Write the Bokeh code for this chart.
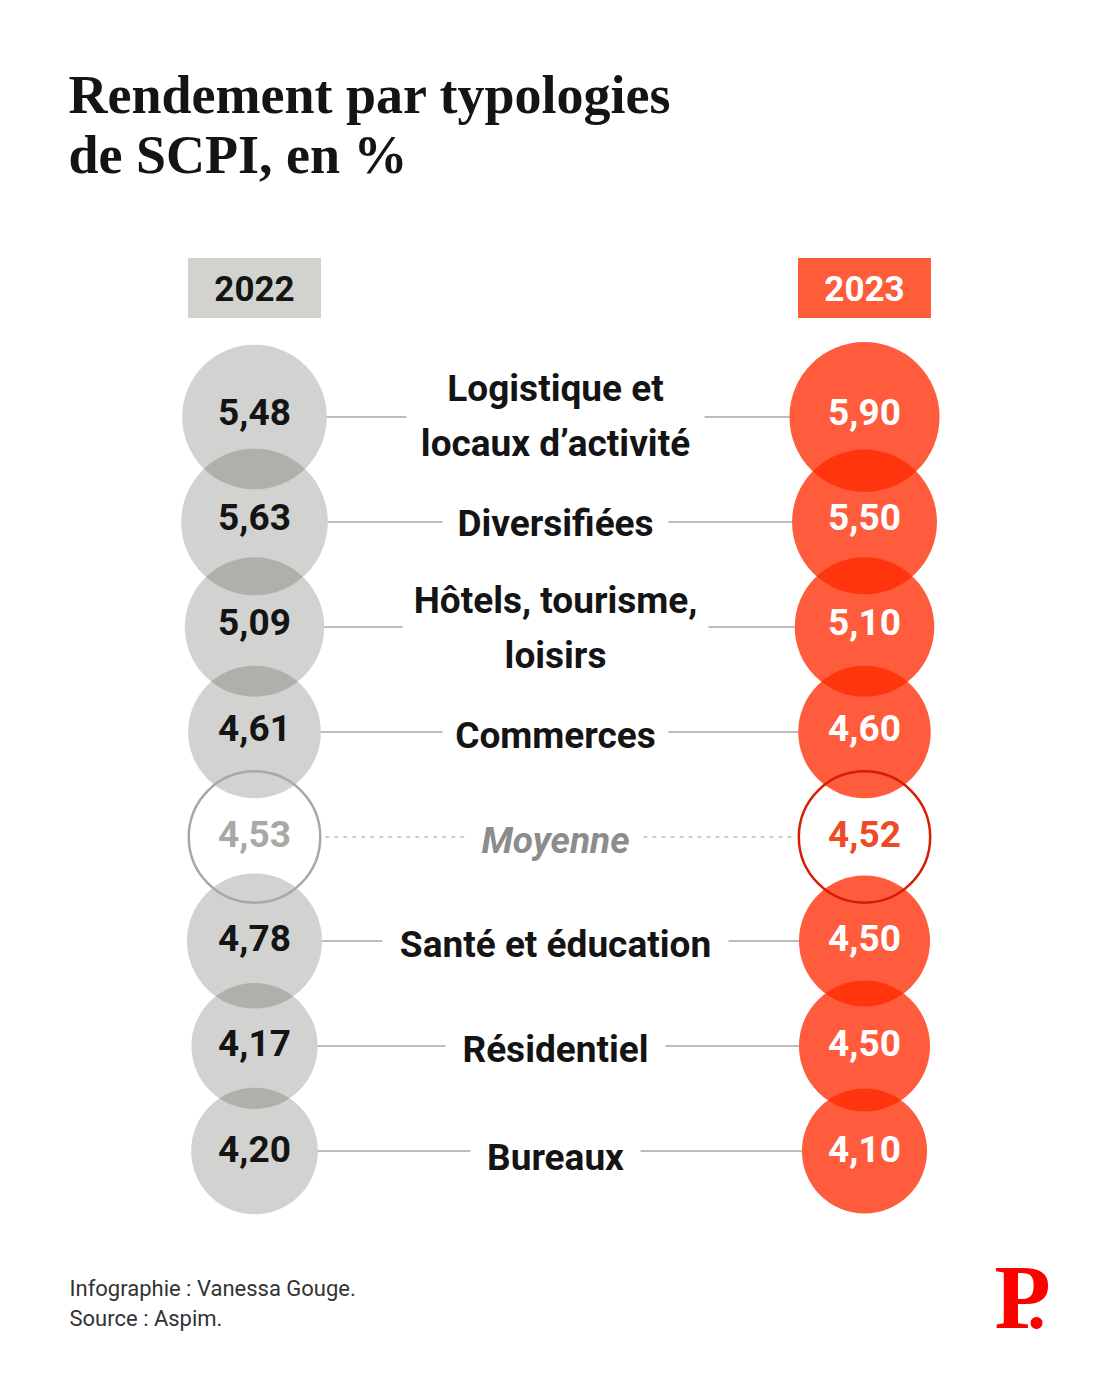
from bokeh.plotting import figure
from bokeh.embed import file_html
from bokeh.resources import INLINE
from bokeh.core.properties import value

# --- data ---
categories = ["Logistique et\nlocaux d’activité", "Diversifiées", "Hôtels, tourisme,\nloisirs", "Commerces",
              "Moyenne", "Santé et éducation", "Résidentiel", "Bureaux"]
values_2022 = [5.48, 5.63, 5.09, 4.61, 4.53, 4.78, 4.17, 4.20]
values_2023 = [5.90, 5.50, 5.10, 4.60, 4.52, 4.50, 4.50, 4.10]
years = ["2022", "2023"]
title_lines = ["Rendement par typologies", "de SCPI, en %"]
credits = ["Infographie : Vanessa Gouge.", "Source : Aspim."]
average_name = "Moyenne"

# --- layout (in page pixels) ---
X = {"2022": 255, "2023": 865}
XC = 556
ROW0, STEP = 417, 105
K = 30.9  # radius = K * sqrt(value): area-proportional
GAP = [149, 113, 153, 113, 88, 173, 110, 85]
VALUE_DY = [-5.5, -5.5, -5.5, -4.5, -3.5, -3.5, -3.5, -2.5]
LABEL_DY = [-0.5, 1.5, 1.5, 3.5, 3.5, 3.5, 3.5, 6.5]
LINE_H = 55
ROBOTO = value("Roboto")
GREY, GREY_A = "#32322a", 0.22
RED, RED_A = "#ff2900", 0.76

p = figure(width=1104, height=1384, x_range=(1, 1105), y_range=(1384.5, 0.5),
           output_backend="svg", toolbar_location=None, min_border=0,
           background_fill_color="white", border_fill_color="white", outline_line_color=None)
p.axis.visible = False
p.grid.visible = False

rows = list(range(len(categories)))
ys = [ROW0 + STEP * i - (1 if i >= 5 else 0) for i in rows]
radius = lambda v: K * v ** 0.5
fmt = lambda v: f"{v:.2f}".replace(".", ",")

# connectors
for i, name in enumerate(categories):
    avg = name == average_name
    xs0 = X["2022"] + radius(values_2022[i]) + (5 if avg else 0)
    xs1 = XC - GAP[i]
    xe0 = XC + GAP[i]
    xe1 = X["2023"] - radius(values_2023[i]) - (5 if avg else 0)
    kw = dict(line_color="#bcbcb8", line_width=2)
    if avg:
        kw.update(line_dash=value("4 5"), line_width=1.4)
    p.segment([xs0, xe0], [ys[i]] * 2, [xs1, xe1], [ys[i]] * 2, **kw)

# headers
hx = [X[y] for y in years]
p.rect(hx, [288, 288], width=133, height=60, fill_color=["#d2d3ce", "#ff5c39"], line_color=None)
p.text(hx, [288, 288], text=years, text_font=ROBOTO, text_font_style="bold", text_font_size="35px",
       text_align="center", text_baseline="middle", text_color=["#141414", "#ffffff"])

# bubbles
for yr, vals, col, a, ring in (("2022", values_2022, GREY, GREY_A, "#a8a8a4"),
                               ("2023", values_2023, RED, RED_A, "#d81e00")):
    idx = [i for i in rows if categories[i] != average_name]
    p.scatter([X[yr]] * len(idx), [ys[i] for i in idx], size=[2 * radius(vals[i]) for i in idx],
              marker="circle", fill_color=col, fill_alpha=a, line_color=None)
    j = categories.index(average_name)
    p.scatter([X[yr]], [ys[j]], size=[2 * radius(vals[j])], marker="circle",
              fill_color=None, line_color=ring, line_width=2.5)

# value labels
for yr, vals, normal, avg_c in (("2022", values_2022, "#141414", "#a8a8a4"),
                                ("2023", values_2023, "#ffffff", "#ee4a28")):
    p.text([X[yr]] * len(rows), [y + d for y, d in zip(ys, VALUE_DY)], text=[fmt(v) for v in vals],
           text_font=ROBOTO, text_font_style="bold", text_font_size="37px",
           text_align="center", text_baseline="middle",
           text_color=[avg_c if c == average_name else normal for c in categories])

# category labels
for i, name in enumerate(categories):
    parts = name.split("\n")
    avg = name == average_name
    ly = [ys[i] + LABEL_DY[i]] if len(parts) == 1 else [ys[i] - LINE_H / 2 + LABEL_DY[i] - 0.5, ys[i] + LINE_H / 2 + LABEL_DY[i] - 0.5]
    p.text([XC] * len(parts), ly, text=parts, text_font=ROBOTO,
           text_font_style="bold italic" if avg else "bold", text_font_size="37px",
           text_align="center", text_baseline="middle", text_color="#8c8c8c" if avg else "#141414")

# title, credits, logo
p.text([69, 69], [95, 155], text=title_lines, text_font=value("Liberation Serif"), text_font_style="bold",
       text_font_size="54px", text_baseline="middle", text_color="#141414")
p.text([70, 70], [1288, 1318], text=credits, text_font=ROBOTO, text_font_size="22px",
       text_baseline="middle", text_color="#333333")
p.text([995], [1297], text=["P"], text_font=value("Liberation Serif"), text_font_style="bold", text_font_size="92px",
       text_baseline="alphabetic", text_color="#ff0000")
p.scatter([1037], [1323], size=13, marker="circle", fill_color="#ff0000", line_color="white", line_width=1)

open("out.html", "w").write(file_html(p, INLINE))
